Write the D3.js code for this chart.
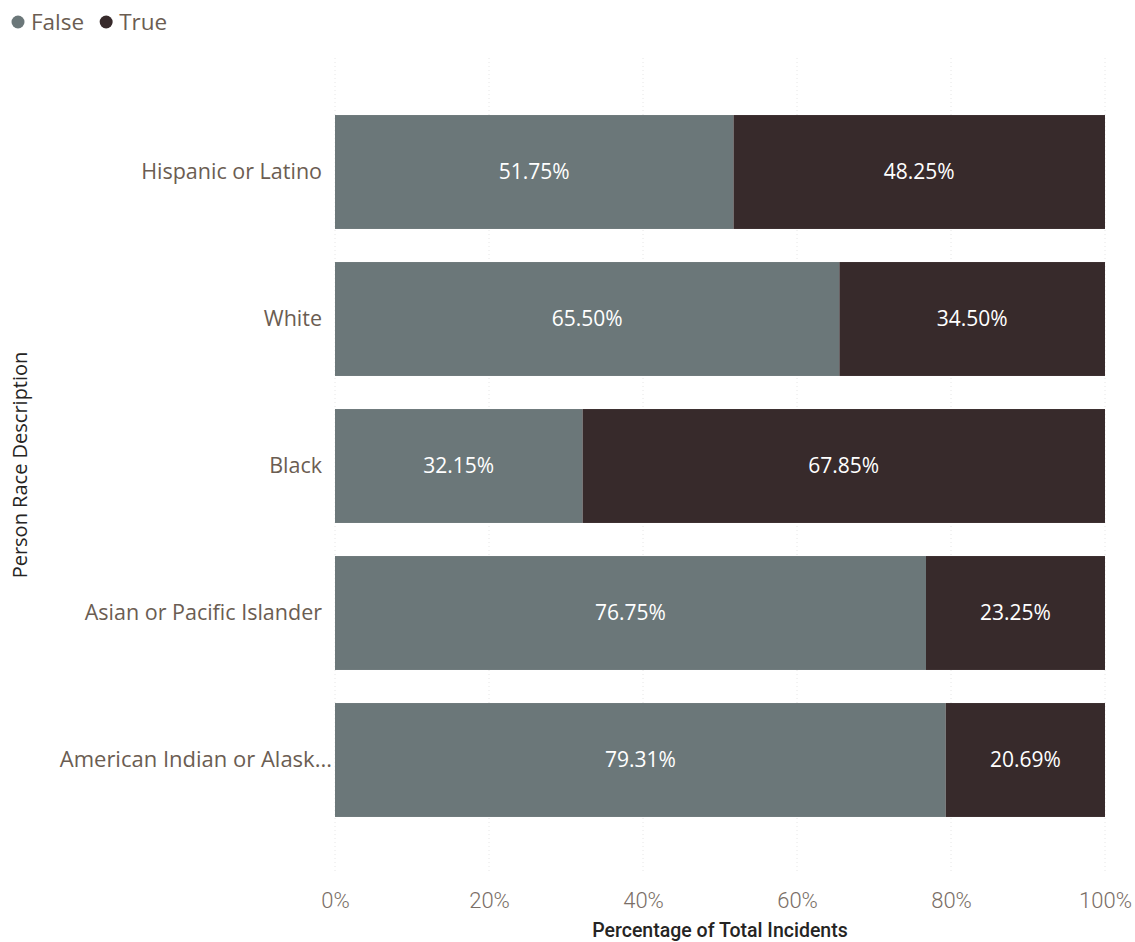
<!DOCTYPE html>
<html><head><meta charset="utf-8">
<script src="https://cdn.jsdelivr.net/npm/d3@7"></script>
<style>body{margin:0;background:#fff;}svg{display:block;}</style>
</head><body>
<svg id="c" width="1135" height="942"></svg>
<script>
const categories = ["Hispanic or Latino","White","Black","Asian or Pacific Islander","American Indian or Alask..."];
const falseValues = [51.75, 65.50, 32.15, 76.75, 79.31];
const trueValues = [48.25, 34.50, 67.85, 23.25, 20.69];
const seriesNames = ["False","True"];
const tickValues = [0, 20, 40, 60, 80, 100];
const colors = {False:"#6b7779", True:"#372a2b"};

const svg = d3.select("#c");
const x = d3.scaleLinear().domain([0,100]).range([335,1105]);
const y = d3.scaleBand().domain(categories).range([98.5,833.5]).paddingInner(0.225).paddingOuter(0.1125);

// gridlines
svg.append("g").selectAll("line").data(tickValues).join("line")
  .attr("x1", d=>x(d)).attr("x2", d=>x(d)).attr("y1",58).attr("y2",872)
  .attr("stroke","#e6e6e6").attr("stroke-width",1).attr("stroke-dasharray","1,3");

const rows = categories.map((c,i)=>({c, f:falseValues[i], t:trueValues[i]}));
const g = svg.append("g");
rows.forEach(r=>{
  const segs = [{k:"False",x0:0,x1:r.f,v:r.f},{k:"True",x0:r.f,x1:r.f+r.t,v:r.t}];
  segs.forEach(s=>{
    g.append("rect").attr("x",x(s.x0)).attr("y",y(r.c)).attr("width",x(s.x1)-x(s.x0)).attr("height",y.bandwidth())
      .attr("fill",colors[s.k]);
    g.append("text").attr("x",(x(s.x0)+x(s.x1))/2).attr("y",y(r.c)+y.bandwidth()/2).attr("dy","0.35em")
      .attr("text-anchor","middle").attr("fill","#ffffff").style("font-family","'Open Sans', sans-serif").style("font-size","21px")
      .text(s.v.toFixed(2)+"%");
  });
});

// y axis labels
const ya = svg.append("g").attr("transform","translate(322,0)").call(d3.axisLeft(y).tickSize(0).tickPadding(0));
ya.select(".domain").remove();
ya.selectAll("text").attr("fill","#6b5d52").style("font-family","'Open Sans', sans-serif").style("font-size","21.5px");
// truncated label overhangs slightly like the reference
ya.selectAll(".tick").filter(d=>d.endsWith("...")).select("text").attr("x",10).style("font-size","22px");

// x axis
const xa = svg.append("g").attr("transform","translate(0,900)").call(d3.axisBottom(x).tickValues(tickValues).tickFormat(d=>d+"%").tickSize(0).tickPadding(0));
xa.select(".domain").remove();
xa.selectAll("text").attr("fill","#7a6e66").attr("dy","0.35em").style("font-family","Roboto, sans-serif").style("font-size","22px").style("font-weight","300");

svg.append("text").attr("x",(x(0)+x(100))/2).attr("y",937).attr("text-anchor","middle").attr("fill","#252423")
  .style("font-family","Roboto, sans-serif").style("font-size","19.5px").style("font-weight","500").text("Percentage of Total Incidents");

svg.append("text").attr("transform","translate(27,465) rotate(-90)").attr("text-anchor","middle").attr("fill","#252423")
  .style("font-family","'Open Sans', sans-serif").style("font-size","20px").text("Person Race Description");

// legend
const lg = svg.append("g");
let lx = 18;
seriesNames.forEach(n=>{
  lg.append("circle").attr("cx",lx).attr("cy",22).attr("r",6.5).attr("fill",colors[n]);
  const t = lg.append("text").attr("x",lx+13).attr("y",22).attr("dy","0.35em").attr("fill","#6b5d52")
    .style("font-family","'Open Sans', sans-serif").style("font-size","22.5px").text(n);
  lx += 13 + t.node().getComputedTextLength() + 22;
});
</script>
</body></html>
